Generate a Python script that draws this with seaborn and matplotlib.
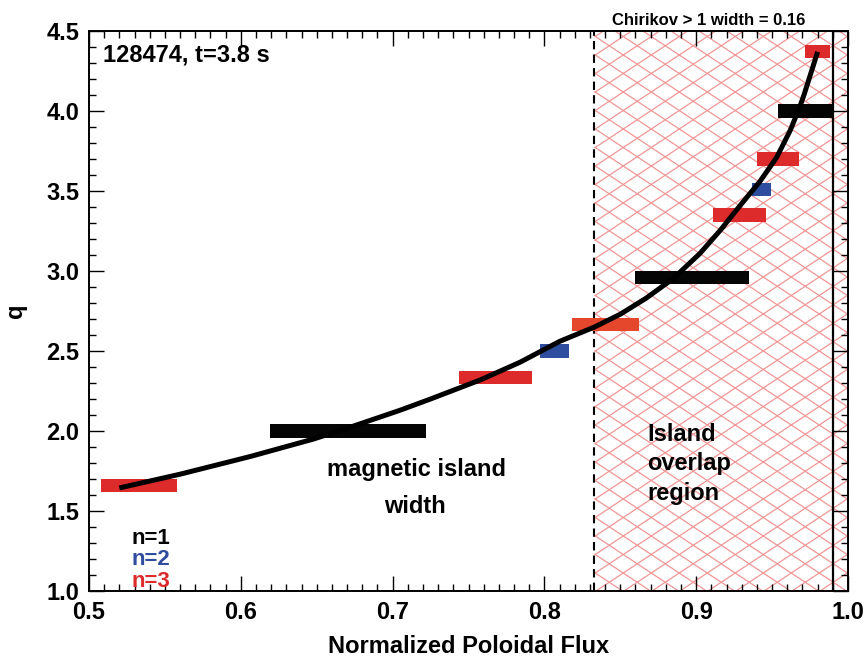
import matplotlib
matplotlib.use("Agg")
import matplotlib.pyplot as plt
from matplotlib.collections import LineCollection
import seaborn as sns
import pandas as pd
import numpy as np

# ---- data ----
curve_x = [0.520, 0.560, 0.606, 0.648, 0.674, 0.705, 0.725, 0.758, 0.784, 0.810,
           0.833, 0.850, 0.867, 0.885, 0.9025, 0.916, 0.929, 0.942, 0.953, 0.962,
           0.968, 0.971, 0.977, 0.980]
curve_q = [1.644, 1.73, 1.84, 1.95, 2.03, 2.13, 2.20, 2.32, 2.43, 2.56,
           2.65, 2.73, 2.83, 2.954, 3.11, 3.256, 3.41, 3.56, 3.71, 3.88,
           4.02, 4.10, 4.28, 4.37]

bar_q  = [1.66, 2.00, 2.333, 2.50, 2.667, 2.96, 3.35, 3.51, 3.70, 4.00, 4.37]
bar_x0 = [0.508, 0.619, 0.744, 0.797, 0.818, 0.860, 0.911, 0.937, 0.940, 0.954, 0.972]
bar_x1 = [0.558, 0.722, 0.792, 0.816, 0.862, 0.935, 0.946, 0.949, 0.968, 0.991, 0.988]
bar_n  = [3, 1, 3, 2, 3, 1, 3, 2, 3, 1, 3]

overlap_start = 0.833
chirikov_edge = 0.99

x_ticks = [0.5, 0.6, 0.7, 0.8, 0.9, 1.0]
y_ticks = [1.0, 1.5, 2.0, 2.5, 3.0, 3.5, 4.0, 4.5]

colors = {1: "#050505", 2: "#2f4d9e", 3: "#dd2a2a"}
bar_colors = [colors[n] for n in bar_n]
bar_colors[4] = "#e5472d"

# ---- style ----
sns.set_theme(style="ticks")
FONT = ["Liberation Sans Narrow", "Liberation Sans", "DejaVu Sans"]
plt.rcParams["font.family"] = FONT
plt.rcParams["font.weight"] = "bold"
plt.rcParams["text.color"] = "black"
plt.rcParams["axes.labelcolor"] = "black"
plt.rcParams["xtick.color"] = "black"
plt.rcParams["ytick.color"] = "black"

FIG_W, FIG_H, DPI = 8.67, 6.62, 100
AX_L, AX_B = 89 / 867, 1 - 591 / 662
AX_W, AX_H = (848 - 89) / 867, (591 - 31) / 662
fig = plt.figure(figsize=(FIG_W, FIG_H), dpi=DPI)
ax = fig.add_axes([AX_L, AX_B, AX_W, AX_H])
XMIN, XMAX, YMIN, YMAX = 0.5, 1.0, 1.0, 4.5
ax.set_xlim(XMIN, XMAX)
ax.set_ylim(YMIN, YMAX)

# crosshatched overlap region (diamond lattice, wider than tall)
px_per_x = FIG_W * DPI * AX_W / (XMAX - XMIN)
px_per_q = FIG_H * DPI * AX_H / (YMAX - YMIN)
w_px, h_px = 28.0, 18.5
slope = (h_px / w_px) * px_per_x / px_per_q   # q units per x unit
dq = h_px / px_per_q                          # vertical spacing in q units
span = slope * (XMAX - overlap_start)
segs = []
for c in np.arange(YMIN - span - dq, YMAX + dq, dq):
    segs.append([(overlap_start, c), (XMAX, c + span)])
    segs.append([(overlap_start, c + span), (XMAX, c)])
ax.add_collection(LineCollection(segs, colors="#f09696", linewidths=0.9, zorder=0))
ax.axvline(overlap_start, color="black", lw=1.5, ls=(0, (4, 2.5)), zorder=1)
ax.axvline(chirikov_edge, color="black", lw=1.6, zorder=1)

# island width bars
bars = pd.DataFrame({"q": bar_q, "x0": bar_x0, "x1": bar_x1, "n": bar_n})
ax.barh(bars["q"], bars["x1"] - bars["x0"], left=bars["x0"], height=0.082,
        color=bar_colors, edgecolor="none", zorder=2)

# q profile
df = pd.DataFrame({"psi": curve_x, "q": curve_q})
sns.lineplot(data=df, x="psi", y="q", sort=False, color="black", lw=3.6,
             ax=ax, zorder=3, solid_capstyle="butt", solid_joinstyle="round")

ax.set_xlim(XMIN, XMAX)
ax.set_ylim(YMIN, YMAX)
ax.set_xticks(x_ticks)
ax.set_xticklabels([f"{v:.1f}" for v in x_ticks])
ax.set_yticks(y_ticks)
ax.set_yticklabels([f"{v:.1f}" for v in y_ticks])
ax.set_xticks(np.arange(0.5, 1.0001, 0.01), minor=True)
ax.set_yticks(np.arange(1.0, 4.5001, 0.1), minor=True)
ax.tick_params(which="both", direction="in", top=True, right=True,
               labelsize=17, width=1.0, color="black", labelcolor="black")
ax.tick_params(which="major", length=11, pad=7)
ax.tick_params(which="minor", length=5)
for lab in ax.get_xticklabels() + ax.get_yticklabels():
    lab.set_fontweight("bold")
for s in ax.spines.values():
    s.set_linewidth(1.4)
    s.set_color("black")
    s.set_zorder(5)

ax.set_xlabel("Normalized Poloidal Flux", fontsize=17, fontweight="bold",
              labelpad=8, color="black")
ax.set_ylabel("q", fontsize=17, fontweight="bold", labelpad=14, color="black")

# annotations
ax.text(0.018, 0.977, "128474, t=3.8 s", transform=ax.transAxes, ha="left",
        va="top", fontsize=17, fontweight="bold", color="black")
ax.text(0.908, 1.005, "Chirikov > 1 width = 0.16", transform=ax.get_xaxis_transform(),
        ha="center", va="bottom", fontsize=12, fontweight="bold", color="black")
ax.text(0.716, 1.76, "magnetic island", ha="center", va="center",
        fontsize=17, fontweight="bold", color="black")
ax.text(0.5 + (415 - 89) / 1518, 1.53, "width", ha="center", va="center",
        fontsize=17, fontweight="bold", color="black")
ax.text(0.8676, 2.05, "Island\noverlap\nregion", ha="left", va="top",
        fontsize=17, fontweight="bold", linespacing=1.36, color="black")
for i, (lab, yy) in enumerate([("n=1", 1.325), ("n=2", 1.195), ("n=3", 1.06)]):
    ax.text(0.528, yy, lab, ha="left", va="center", fontsize=16,
            fontweight="bold", color=colors[i + 1])

fig.savefig("out.png", dpi=DPI)
